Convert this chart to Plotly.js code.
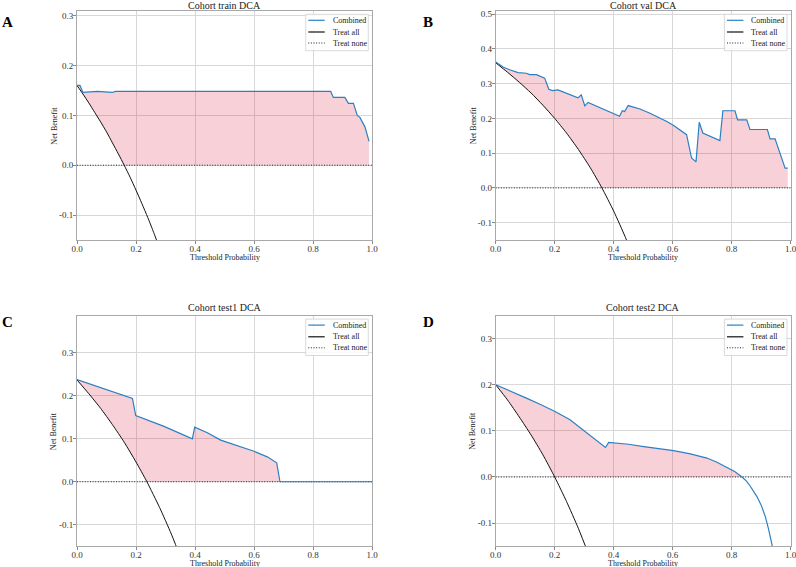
<!DOCTYPE html>
<html>
<head>
<meta charset="utf-8">
<script src="https://cdn.plot.ly/plotly-3.0.1.min.js"></script>
<style>
  html, body { margin: 0; padding: 0; background: #fff; }
  #chart { width: 796px; height: 567px; }
</style>
</head>
<body>
<div id="chart"></div>
<script>
// ---- Data: decision curve analysis for four cohorts ----
const panelLetters = ["A", "B", "C", "D"];
const panelTitles = ["Cohort train DCA", "Cohort val DCA", "Cohort test1 DCA", "Cohort test2 DCA"];
const legendNames = ["Combined", "Treat all", "Treat none"];
const xTickVals = [0, 0.2, 0.4, 0.6, 0.8, 1.0];
const xTickText = ["0.0", "0.2", "0.4", "0.6", "0.8", "1.0"];

// Cohort train
const trainX = [0, 0.01, 0.02, 0.07, 0.12, 0.13, 0.86, 0.869, 0.908, 0.92, 0.937, 0.95, 0.959, 0.976, 0.99];
const trainY = [0.160, 0.160, 0.146, 0.148, 0.146, 0.148, 0.148, 0.136, 0.136, 0.124, 0.124, 0.100, 0.096, 0.077, 0.048];
const trainAllX = [0, 0.02, 0.04, 0.06, 0.08, 0.10, 0.12, 0.14, 0.16, 0.18, 0.20, 0.22, 0.24, 0.26, 0.28];
const trainAllY = [0.160, 0.143, 0.125, 0.106, 0.087, 0.067, 0.045, 0.023, 0.000, -0.024, -0.050, -0.077, -0.105, -0.135, -0.167];

// Cohort val
const valX = [0, 0.025, 0.047, 0.076, 0.104, 0.115, 0.138, 0.166, 0.18, 0.192, 0.211, 0.279, 0.29, 0.302, 0.313,
  0.42, 0.429, 0.437, 0.449, 0.489, 0.523, 0.546, 0.58, 0.602, 0.647, 0.664, 0.679, 0.69, 0.702, 0.76,
  0.77, 0.811, 0.82, 0.851, 0.862, 0.921, 0.93, 0.947, 0.981, 0.99];
const valY = [0.362, 0.348, 0.340, 0.332, 0.330, 0.326, 0.326, 0.316, 0.284, 0.280, 0.282, 0.259, 0.268, 0.236, 0.246,
  0.206, 0.222, 0.220, 0.237, 0.227, 0.215, 0.206, 0.191, 0.180, 0.153, 0.086, 0.075, 0.189, 0.158, 0.136,
  0.222, 0.222, 0.196, 0.196, 0.168, 0.168, 0.141, 0.141, 0.057, 0.057];
const valAllX = [0, 0.04, 0.08, 0.12, 0.16, 0.20, 0.24, 0.28, 0.32, 0.36, 0.40, 0.44, 0.48];
const valAllY = [0.360, 0.333, 0.304, 0.273, 0.238, 0.200, 0.158, 0.111, 0.059, 0.000, -0.067, -0.143, -0.231];

// Cohort test1
const test1X = [0, 0.081, 0.188, 0.199, 0.295, 0.391, 0.399, 0.442, 0.487, 0.600, 0.645, 0.677, 0.688, 1.0];
const test1Y = [0.238, 0.219, 0.194, 0.154, 0.129, 0.100, 0.127, 0.114, 0.097, 0.071, 0.058, 0.044, 0.000, 0.000];
const test1AllX = [0, 0.04, 0.08, 0.12, 0.16, 0.20, 0.237, 0.28, 0.32, 0.36];
const test1AllY = [0.237, 0.205, 0.171, 0.133, 0.092, 0.046, 0.000, -0.060, -0.122, -0.192];

// Cohort test2
const test2X = [0, 0.048, 0.104, 0.152, 0.201, 0.252, 0.297, 0.331, 0.372, 0.383, 0.45, 0.502, 0.603, 0.66, 0.716,
  0.75, 0.784, 0.81, 0.835, 0.85, 0.863, 0.886, 0.90, 0.914, 0.925, 0.937, 0.95];
const test2Y = [0.200, 0.187, 0.171, 0.157, 0.142, 0.124, 0.102, 0.084, 0.064, 0.075, 0.071, 0.066, 0.057, 0.050, 0.041,
  0.032, 0.021, 0.012, 0.000, -0.009, -0.020, -0.043, -0.061, -0.086, -0.113, -0.148, -0.216];
const test2AllX = [0, 0.04, 0.08, 0.12, 0.16, 0.20, 0.24, 0.28, 0.32];
const test2AllY = [0.200, 0.167, 0.130, 0.091, 0.048, 0.000, -0.053, -0.111, -0.176];

const modelXs = [trainX, valX, test1X, test2X];
const modelYs = [trainY, valY, test1Y, test2Y];
const allXs = [trainAllX, valAllX, test1AllX, test2AllX];
const allYs = [trainAllY, valAllY, test1AllY, test2AllY];
const yTop = [0.31, 0.51, 0.387, 0.35];
const yTickVals = [
  [-0.1, 0, 0.1, 0.2, 0.3],
  [-0.1, 0, 0.1, 0.2, 0.3, 0.4, 0.5],
  [-0.1, 0, 0.1, 0.2, 0.3],
  [-0.1, 0, 0.1, 0.2, 0.3]
];
const yTickText = [
  ["-0.1", "0.0", "0.1", "0.2", "0.3"],
  ["-0.1", "0.0", "0.1", "0.2", "0.3", "0.4", "0.5"],
  ["-0.1", "0.0", "0.1", "0.2", "0.3"],
  ["-0.1", "0.0", "0.1", "0.2", "0.3"]
];

// ---- Layout helpers (pixel positions on a 796 x 567 page) ----
const W = 796, H = 567;
const fx = v => v / W;
const fy = v => 1 - v / H;
const FONT = "Liberation Serif, Times New Roman, serif";
const BLUE = "#2a80c4";
const FILL = "rgba(220,20,60,0.2)";
const DOTS = "1px,1.6px";

// axes boxes: [left, right, top, bottom] in px
const boxes = [
  [77, 372, 10.7, 240],
  [495.7, 790.7, 10.7, 240],
  [77, 372, 315.5, 546.2],
  [495.7, 790.7, 315.5, 546.2]
];
const letterPos = [[7.7, 22], [427.7, 22], [7, 322.3], [428, 321.7]];
// the top-row titles sit a little lower so they stay inside the page
const titleGap = [-2.2, -2.2, 0.5, 0.5];

const traces = [];
const layout = {
  width: W, height: H,
  margin: {l: 0, r: 0, t: 0, b: 0},
  paper_bgcolor: "#fff",
  plot_bgcolor: "#fff",
  showlegend: false,
  font: {family: FONT, color: "#222"},
  annotations: [],
  shapes: []
};

boxes.forEach((b, i) => {
  const n = i + 1;
  const xa = "x" + (n === 1 ? "" : n);
  const ya = "y" + (n === 1 ? "" : n);
  const xKey = "xaxis" + (n === 1 ? "" : n);
  const yKey = "yaxis" + (n === 1 ? "" : n);
  const axisCommon = {
    showgrid: true, gridcolor: "#d8d8d8", gridwidth: 1,
    showline: true, mirror: true, linecolor: "#a8a8a8", linewidth: 1,
    ticks: "outside", ticklen: 3, tickwidth: 1, tickcolor: "#888",
    zeroline: false, fixedrange: true, ticklabeloverflow: "allow",
    tickfont: {family: FONT, size: 9, color: "#333"}
  };
  layout[xKey] = Object.assign({}, axisCommon, {
    domain: [fx(b[0]), fx(b[1])], anchor: ya, range: [0, 1],
    tickmode: "array", tickvals: xTickVals, ticktext: xTickText,
    ticklabelstandoff: -3
  });
  layout[yKey] = Object.assign({}, axisCommon, {
    domain: [fy(b[3]), fy(b[2])], anchor: xa, range: [-0.15, yTop[i]],
    tickmode: "array", tickvals: yTickVals[i], ticktext: yTickText[i],
    ticklabelstandoff: -2
  });

  const mx = modelXs[i], my = modelYs[i];
  const ax = allXs[i], ay = allYs[i];

  // shaded net-benefit gain: between the model curve and max(treat all, treat none)
  const fillX = [], fillY = [];
  mx.forEach((x, k) => { if (my[k] >= 0) { fillX.push(x); fillY.push(my[k]); } });
  const lowX = [], lowY = [];
  ax.forEach((x, k) => { if (ay[k] >= 0) { lowX.push(x); lowY.push(ay[k]); } });
  lowX.push(fillX[fillX.length - 1]); lowY.push(0);

  traces.push({x: lowX, y: lowY, xaxis: xa, yaxis: ya, mode: "lines",
    line: {width: 0, color: "rgba(0,0,0,0)"}, hoverinfo: "skip"});
  traces.push({x: fillX, y: fillY, xaxis: xa, yaxis: ya, mode: "lines",
    fill: "tonexty", fillcolor: FILL, line: {width: 0, color: "rgba(0,0,0,0)"}, hoverinfo: "skip"});

  // treat none
  traces.push({x: [0, 1], y: [0, 0], xaxis: xa, yaxis: ya, mode: "lines",
    name: legendNames[2], line: {color: "#222", width: 1, dash: DOTS}});
  // treat all
  traces.push({x: ax, y: ay, xaxis: xa, yaxis: ya, mode: "lines",
    name: legendNames[1], line: {color: "#111", width: 1, shape: "spline", smoothing: 0.6}});
  // model
  traces.push({x: mx, y: my, xaxis: xa, yaxis: ya, mode: "lines",
    name: legendNames[0], line: {color: BLUE, width: 1.2}});

  const cx = (b[0] + b[1]) / 2, cy = (b[2] + b[3]) / 2;
  // subplot title
  layout.annotations.push({text: panelTitles[i], xref: "paper", yref: "paper",
    x: fx(cx), y: fy(b[2] - titleGap[i]), xanchor: "center", yanchor: "bottom", showarrow: false,
    font: {family: FONT, size: 10, color: "#222"}});
  // axis titles
  layout.annotations.push({text: "Threshold Probability", xref: "paper", yref: "paper",
    x: fx(cx), y: fy(b[3] + 17.6), xanchor: "center", yanchor: "middle", showarrow: false,
    font: {family: FONT, size: 8, color: "#222"}});
  layout.annotations.push({text: "Net Benefit", xref: "paper", yref: "paper", textangle: -90,
    x: fx(b[0] - 22.7), y: fy(cy), xanchor: "center", yanchor: "middle", showarrow: false,
    font: {family: FONT, size: 8, color: "#222"}});
  // panel letter
  layout.annotations.push({text: "<b>" + panelLetters[i] + "</b>", xref: "paper", yref: "paper",
    x: fx(letterPos[i][0]), y: fy(letterPos[i][1]), xanchor: "center", yanchor: "middle", showarrow: false,
    font: {family: FONT, size: 15, color: "#000"}});

  // legend box in the upper-right corner
  const lx0 = b[1] - 66.3, lx1 = b[1] - 3.7;
  const ly0 = b[2] + 3.6, ly1 = b[2] + 40;
  layout.shapes.push({type: "rect", xref: "paper", yref: "paper",
    x0: fx(lx0), x1: fx(lx1), y0: fy(ly0), y1: fy(ly1),
    fillcolor: "rgba(255,255,255,0.85)", line: {color: "#cfcfcf", width: 0.8}});
  const rows = [b[2] + 9.6, b[2] + 21.3, b[2] + 32.3];
  const styles = [{color: BLUE, width: 1.2}, {color: "#111", width: 1.2}, {color: "#222", width: 1, dash: DOTS}];
  rows.forEach((ry, r) => {
    layout.shapes.push({type: "line", xref: "paper", yref: "paper",
      x0: fx(lx0 + 2.6), x1: fx(lx0 + 19), y0: fy(ry), y1: fy(ry), line: styles[r]});
    layout.annotations.push({text: legendNames[r], xref: "paper", yref: "paper",
      x: fx(lx0 + 25), y: fy(ry), xanchor: "left", yanchor: "middle", showarrow: false,
      font: {family: FONT, size: 8, color: "#222"}});
  });
});

Plotly.newPlot("chart", traces, layout, {displayModeBar: false, staticPlot: true});
</script>
</body>
</html>
